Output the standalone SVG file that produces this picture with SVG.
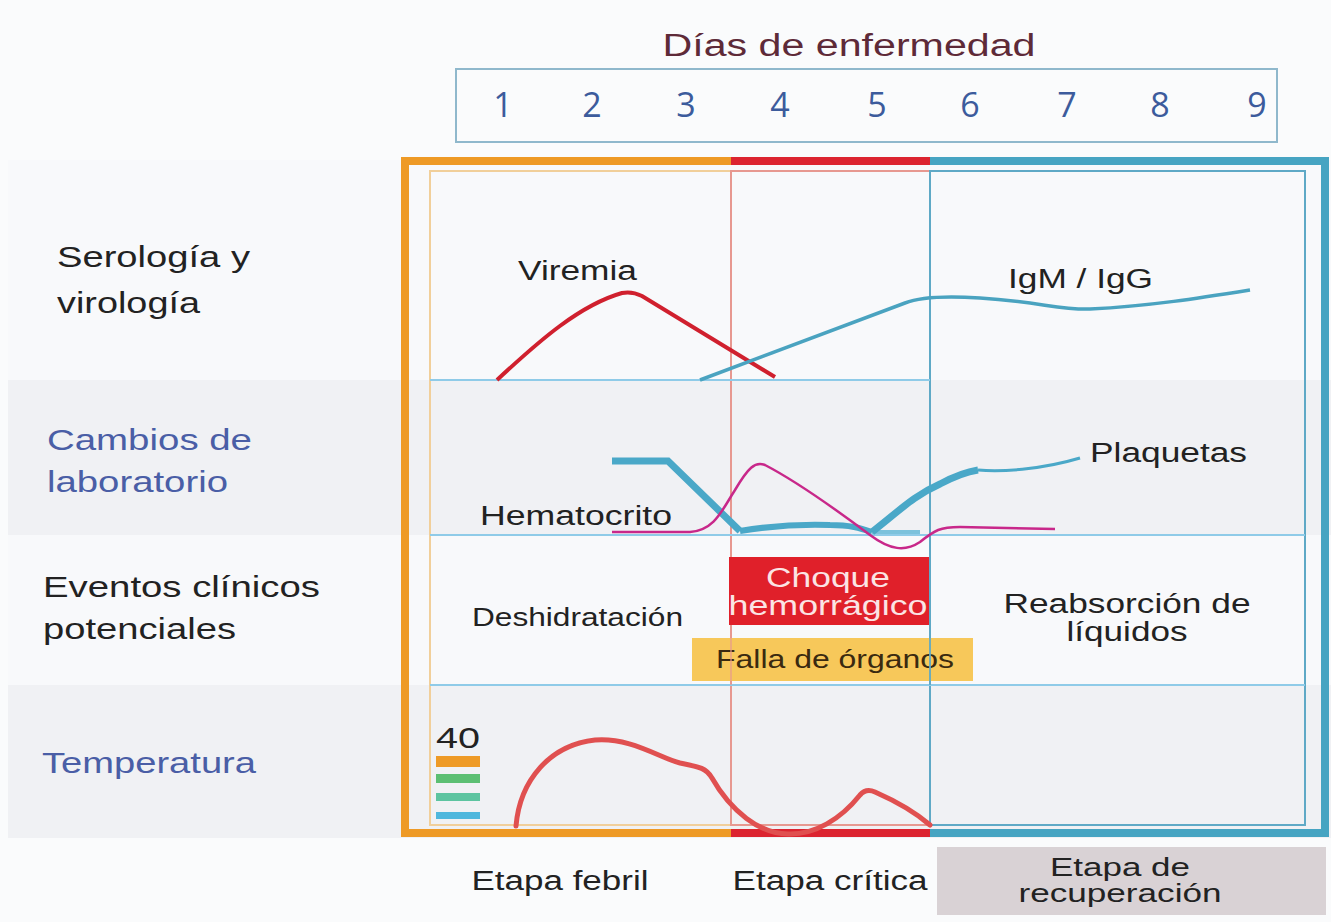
<svg xmlns="http://www.w3.org/2000/svg" width="1331" height="922" viewBox="0 0 1331 922">
<style>
.t{font-family:"Liberation Sans",Arial,sans-serif;fill:#222}
.lbl{font-size:29px}
.blue{fill:#4a5ea6}
.num{font-family:"Open Sans","Liberation Sans",sans-serif;font-size:34px;fill:#3c5b9c;text-anchor:middle}
.row{stroke:#8fcbe8;stroke-width:2;fill:none}
</style>
<rect x="0" y="0" width="1331" height="922" fill="#fafbfc"/>
<g id="bands">
<rect x="8" y="160" width="1323" height="220" fill="#f8f9fb"/>
<rect x="8" y="380" width="1323" height="155" fill="#f0f1f4"/>
<rect x="8" y="535" width="1323" height="150" fill="#f8f9fb"/>
<rect x="8" y="685" width="1323" height="153" fill="#f0f1f4"/>
</g>
<g id="days">
<text class="t" x="849" y="56" font-size="31" text-anchor="middle" textLength="373" lengthAdjust="spacingAndGlyphs" style="fill:#5e2a38">Días de enfermedad</text>
<rect x="456" y="69" width="821" height="73" fill="none" stroke="#8fb8cc" stroke-width="2"/>
<text class="num" x="503" y="117">1</text>
<text class="num" x="592" y="117">2</text>
<text class="num" x="686" y="117">3</text>
<text class="num" x="780" y="117">4</text>
<text class="num" x="877" y="117">5</text>
<text class="num" x="970" y="117">6</text>
<text class="num" x="1067" y="117">7</text>
<text class="num" x="1160" y="117">8</text>
<text class="num" x="1257" y="117">9</text>
</g>
<g id="row-labels">
<text class="t lbl" x="57" y="267" textLength="193" lengthAdjust="spacingAndGlyphs">Serología y</text>
<text class="t lbl" x="57" y="313" textLength="143" lengthAdjust="spacingAndGlyphs">virología</text>
<text class="t lbl blue" x="47" y="450" textLength="205" lengthAdjust="spacingAndGlyphs">Cambios de</text>
<text class="t lbl blue" x="47" y="492" textLength="181" lengthAdjust="spacingAndGlyphs">laboratorio</text>
<text class="t lbl" x="43" y="597" textLength="277" lengthAdjust="spacingAndGlyphs">Eventos clínicos</text>
<text class="t lbl" x="43" y="639" textLength="193" lengthAdjust="spacingAndGlyphs">potenciales</text>
<text class="t lbl blue" x="42" y="773" textLength="214" lengthAdjust="spacingAndGlyphs">Temperatura</text>
</g>
<g id="frames">
<rect x="430" y="171" width="301" height="654" fill="none" stroke="#f1cf9a" stroke-width="2"/>
<rect x="731" y="171" width="199" height="654" fill="none" stroke="#e79890" stroke-width="2"/>
<rect x="930" y="171" width="375" height="654" fill="none" stroke="#5fa9c6" stroke-width="2"/>
<line class="row" x1="430" y1="380" x2="930" y2="380"/>
<line class="row" x1="430" y1="535" x2="1305" y2="535"/>
<line class="row" x1="430" y1="685" x2="1305" y2="685"/>
<path d="M731,161 H405 V833 H731" fill="none" stroke="#ee9a26" stroke-width="8"/>
<path d="M731,161 H930 M731,833 H930" fill="none" stroke="#dc2430" stroke-width="8"/>
<path d="M930,161 H1325 V833 H930" fill="none" stroke="#46a4c2" stroke-width="8"/>
</g>
<g id="serologia">
<text class="t" x="518" y="280" font-size="27" textLength="119" lengthAdjust="spacingAndGlyphs">Viremia</text>
<path d="M497,380 C540,340 580,305 622,293 Q632,291 642,296 L775,377" fill="none" stroke="#d0202e" stroke-width="4"/>
<text class="t" x="1008" y="288" font-size="27" textLength="145" lengthAdjust="spacingAndGlyphs">IgM / IgG</text>
<path d="M700,380 L905,303 C920,297 950,296 980,298 C1040,302 1060,310 1090,309 C1150,306 1200,298 1250,290" fill="none" stroke="#4aa3c0" stroke-width="3.5"/>
</g>
<g id="laboratorio">
<path d="M612,461 H668 L740,531" fill="none" stroke="#4aa8c8" stroke-width="7"/>
<path d="M740,531 C770,526 800,524 830,525 C850,525 860,528 872,532" fill="none" stroke="#4aa8c8" stroke-width="6"/>
<path d="M872,532 H920" fill="none" stroke="#7cc2dc" stroke-width="4"/>
<path d="M872,532 C900,510 915,495 940,484 C955,476 965,472 978,470" fill="none" stroke="#4aa8c8" stroke-width="7"/>
<path d="M978,470 C1000,472 1040,470 1080,458" fill="none" stroke="#4aa8c8" stroke-width="3"/>
<text class="t" x="1090" y="462" font-size="27" textLength="157" lengthAdjust="spacingAndGlyphs">Plaquetas</text>
<path d="M612,532 H690 C715,530 722,510 735,490 C748,468 755,461 765,465 C790,478 830,505 870,535 C890,550 905,552 920,542 C935,530 940,527 960,527 L1055,529" fill="none" stroke="#c8288a" stroke-width="2.5"/>
<text class="t" x="480" y="525" font-size="27" textLength="192" lengthAdjust="spacingAndGlyphs">Hematocrito</text>
</g>
<g id="eventos">
<text class="t" x="472" y="626" font-size="25" textLength="211" lengthAdjust="spacingAndGlyphs">Deshidratación</text>
<rect x="729" y="557" width="200" height="68" fill="#e0202a"/>
<text class="t" x="828" y="587" font-size="27" text-anchor="middle" textLength="124" lengthAdjust="spacingAndGlyphs" style="fill:#fbe4e4">Choque</text>
<text class="t" x="828" y="615" font-size="27" text-anchor="middle" textLength="199" lengthAdjust="spacingAndGlyphs" style="fill:#fbe4e4">hemorrágico</text>
<rect x="692" y="638" width="281" height="43" fill="#f7c85a"/>
<text class="t" x="835" y="668" font-size="25" text-anchor="middle" textLength="238" lengthAdjust="spacingAndGlyphs" style="fill:#3a2a10">Falla de órganos</text>
<line x1="731" y1="626" x2="731" y2="685" stroke="#e79890" stroke-width="1.5" opacity="0.8"/>
<line x1="930" y1="557" x2="930" y2="685" stroke="#5fa9c6" stroke-width="2" opacity="0.9"/>
<text class="t" x="1127" y="613" font-size="27" text-anchor="middle" textLength="247" lengthAdjust="spacingAndGlyphs">Reabsorción de</text>
<text class="t" x="1127" y="641" font-size="27" text-anchor="middle" textLength="121" lengthAdjust="spacingAndGlyphs">líquidos</text>
</g>
<g id="temperatura">
<text class="t" x="436" y="748" font-size="30" textLength="44" lengthAdjust="spacingAndGlyphs">40</text>
<rect x="436" y="756" width="44" height="11" fill="#ee9a26"/>
<rect x="436" y="774" width="44" height="9" fill="#5cbf73"/>
<rect x="436" y="793" width="44" height="8" fill="#5dc4a0"/>
<rect x="436" y="812" width="44" height="7" fill="#4fb7dd"/>
<path d="M516,826 C520,780 550,745 595,740 C630,737 660,758 680,763 C700,767 706,768 712,778 C730,810 760,835 790,834 C815,834 840,820 860,795 Q866,788 875,792 C900,803 915,812 930,825" fill="none" stroke="#e05050" stroke-width="5" stroke-linecap="round"/>
</g>
<g id="etapas">
<text class="t" x="560" y="890" font-size="27" text-anchor="middle" textLength="177" lengthAdjust="spacingAndGlyphs">Etapa febril</text>
<text class="t" x="830" y="890" font-size="27" text-anchor="middle" textLength="195" lengthAdjust="spacingAndGlyphs">Etapa crítica</text>
<rect x="937" y="847" width="389" height="68" fill="#d9d2d5"/>
<text class="t" x="1120" y="876" font-size="25" text-anchor="middle" textLength="140" lengthAdjust="spacingAndGlyphs">Etapa de</text>
<text class="t" x="1120" y="902" font-size="25" text-anchor="middle" textLength="203" lengthAdjust="spacingAndGlyphs">recuperación</text>
</g>
</svg>
